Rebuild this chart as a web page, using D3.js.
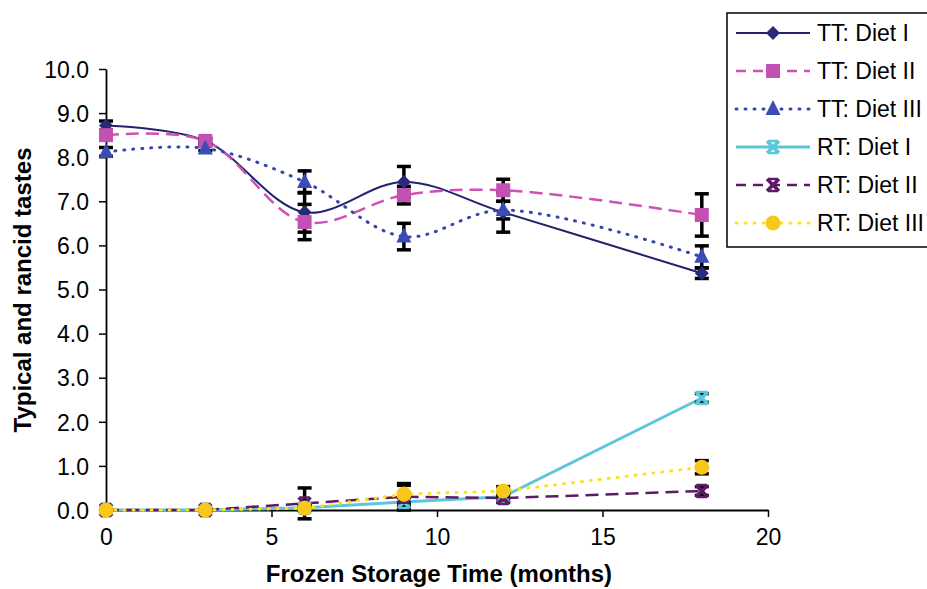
<!DOCTYPE html>
<html>
<head>
<meta charset="utf-8">
<script src="https://cdn.jsdelivr.net/npm/d3@7"></script>
<style>
  html, body { margin: 0; padding: 0; background: #fff; }
  svg { display: block; font-family: "Liberation Sans", Arial, sans-serif; }
</style>
</head>
<body>
<svg id="chart" width="927" height="589"></svg>
<script>
// Frozen storage time (months)
const months = [0, 3, 6, 9, 12, 18];

// Typical taste (TT) and rancid taste (RT) scores, per diet
const ttDiet1 = [8.72, 8.37, 6.75, 7.44, 6.75, 5.37];
const ttDiet2 = [8.50, 8.37, 6.53, 7.14, 7.25, 6.69];
const ttDiet3 = [8.12, 8.20, 7.44, 6.20, 6.80, 5.74];
const rtDiet1 = [0.00, 0.00, 0.05, 0.18, 0.30, 2.54];
const rtDiet2 = [0.00, 0.00, 0.15, 0.30, 0.27, 0.43];
const rtDiet3 = [0.00, 0.00, 0.04, 0.36, 0.43, 0.97];

// error bar half-widths
const ttDiet1Err = [0.10, 0.05, 0.45, 0.35, 0.45, 0.12];
const ttDiet2Err = [0.10, 0.05, 0.40, 0.20, 0.25, 0.48];
const ttDiet3Err = [0.10, 0.05, 0.25, 0.30, 0.20, 0.25];
const rtDiet1Err = [0.02, 0.02, 0.05, 0.10, 0.10, 0.10];
const rtDiet2Err = [0.02, 0.02, 0.35, 0.30, 0.10, 0.10];
const rtDiet3Err = [0.02, 0.02, 0.05, 0.20, 0.10, 0.15];

const seriesNames = ["TT: Diet I", "TT: Diet II", "TT: Diet III", "RT: Diet I", "RT: Diet II", "RT: Diet III"];
const xTicks = [0, 5, 10, 15, 20];
const yTicks = [0, 1, 2, 3, 4, 5, 6, 7, 8, 9, 10];

const smooth = d3.curveCatmullRom.alpha(0.5);
const straight = d3.curveLinear;

const series = [
  {name: seriesNames[0], values: ttDiet1, err: ttDiet1Err, color: "#22226e", width: 2, dash: null, marker: "diamond", mcolor: "#2a2a7a", curve: smooth},
  {name: seriesNames[1], values: ttDiet2, err: ttDiet2Err, color: "#d050b8", width: 2.5, dash: "13,7", marker: "square", mcolor: "#c550b4", curve: smooth},
  {name: seriesNames[2], values: ttDiet3, err: ttDiet3Err, color: "#3545b0", width: 3, dash: "1,8", marker: "triangle", mcolor: "#3b4cb4", curve: smooth},
  {name: seriesNames[3], values: rtDiet1, err: rtDiet1Err, color: "#5cc6da", width: 3, dash: null, marker: "cross", mcolor: "#5cc6da", curve: straight},
  {name: seriesNames[4], values: rtDiet2, err: rtDiet2Err, color: "#5e1a66", width: 2.5, dash: "13,7", marker: "cross", mcolor: "#5e1a66", curve: straight},
  {name: seriesNames[5], values: rtDiet3, err: rtDiet3Err, color: "#ffe11a", width: 3, dash: "1,8", marker: "circle", mcolor: "#f7c81a", curve: straight}
];

const svg = d3.select("#chart");

const x = d3.scaleLinear().domain([0, 20]).range([106, 768]);
const y = d3.scaleLinear().domain([0, 10]).range([510, 69]);

// axes
const xAxis = svg.append("g")
  .attr("transform", `translate(0,${y(0)})`)
  .call(d3.axisBottom(x).tickValues(xTicks).tickSize(7).tickSizeOuter(0).tickFormat(d3.format("d")));
const yAxis = svg.append("g")
  .attr("transform", `translate(${x(0)},0)`)
  .call(d3.axisLeft(y).tickValues(yTicks).tickSize(7).tickSizeOuter(0).tickFormat(d3.format(".1f")));

[xAxis, yAxis].forEach(a => {
  a.select(".domain").attr("stroke", "#000").attr("stroke-width", 1.8);
  a.selectAll(".tick line").attr("stroke", "#000").attr("stroke-width", 1.5);
  a.selectAll(".tick text").attr("fill", "#000").style("font-size", "23px")
    .style("font-family", "'Liberation Sans', Arial, sans-serif");
});
xAxis.selectAll(".tick text").attr("y", 10).attr("dy", "1.09em");
yAxis.selectAll(".tick text").attr("x", -17).attr("dy", "0.36em");

svg.append("text")
  .attr("x", 439).attr("y", 582)
  .attr("text-anchor", "middle")
  .style("font-size", "24px").style("font-weight", "bold")
  .text("Frozen Storage Time (months)");

svg.append("text")
  .attr("transform", "translate(31,290) rotate(-90)")
  .attr("text-anchor", "middle")
  .style("font-size", "24px").style("font-weight", "bold")
  .text("Typical and rancid tastes");

function drawMarker(g, type, color) {
  if (type === "diamond") {
    g.append("path").attr("d", "M0,-7L7,0L0,7L-7,0Z").attr("fill", color);
  } else if (type === "square") {
    g.append("rect").attr("x", -7).attr("y", -7).attr("width", 14).attr("height", 14).attr("fill", color);
  } else if (type === "triangle") {
    g.append("path").attr("d", "M0,-9L7.5,6L-7.5,6Z").attr("fill", color);
  } else if (type === "circle") {
    g.append("circle").attr("r", 7.5).attr("fill", color);
  } else if (type === "cross") {
    g.append("path").attr("d", "M-6,-6L6,6M6,-6L-6,6").attr("stroke", color).attr("stroke-width", 3.5);
    g.append("path").attr("d", "M-5,-6L5,-6M-5,6L5,6").attr("stroke", color).attr("stroke-width", 2.5);
  }
}

// lines
series.forEach(s => {
  const line = d3.line()
    .x((d, i) => x(months[i]))
    .y(d => y(d))
    .curve(s.curve);
  svg.append("path")
    .datum(s.values)
    .attr("d", line)
    .attr("fill", "none")
    .attr("stroke", s.color)
    .attr("stroke-width", s.width)
    .attr("stroke-linecap", s.dash === "1,8" ? "round" : "butt")
    .attr("stroke-dasharray", s.dash);
});

// error bars
series.forEach(s => {
  s.values.forEach((v, i) => {
    const e = s.err[i];
    const cx = x(months[i]);
    const g = svg.append("g").attr("stroke", "#000").attr("stroke-width", 3.5);
    g.append("line").attr("x1", cx).attr("x2", cx).attr("y1", y(v - e)).attr("y2", y(v + e));
    g.append("line").attr("x1", cx - 7).attr("x2", cx + 7).attr("y1", y(v - e)).attr("y2", y(v - e));
    g.append("line").attr("x1", cx - 7).attr("x2", cx + 7).attr("y1", y(v + e)).attr("y2", y(v + e));
  });
});

// markers
series.forEach(s => {
  s.values.forEach((v, i) => {
    const g = svg.append("g").attr("transform", `translate(${x(months[i])},${y(v)})`);
    drawMarker(g, s.marker, s.mcolor);
  });
});

// legend
const legend = svg.append("g");
legend.append("rect")
  .attr("x", 727).attr("y", 13).attr("width", 215).attr("height", 234)
  .attr("fill", "#fff").attr("stroke", "#000").attr("stroke-width", 1.5);

const legendY = d3.scalePoint().domain(seriesNames).range([33, 223]);
series.forEach(s => {
  const ly = legendY(s.name);
  legend.append("line")
    .attr("x1", 736).attr("x2", 810).attr("y1", ly).attr("y2", ly)
    .attr("stroke", s.color).attr("stroke-width", s.width)
    .attr("stroke-linecap", s.dash === "1,8" ? "round" : "butt")
    .attr("stroke-dasharray", s.dash === "13,7" ? "10,7" : s.dash);
  const g = legend.append("g").attr("transform", `translate(773,${ly})`);
  drawMarker(g, s.marker, s.mcolor);
  legend.append("text")
    .attr("x", 817).attr("y", ly).attr("dy", "0.36em")
    .style("font-size", "23px").attr("fill", "#000")
    .text(s.name);
});
</script>
</body>
</html>
